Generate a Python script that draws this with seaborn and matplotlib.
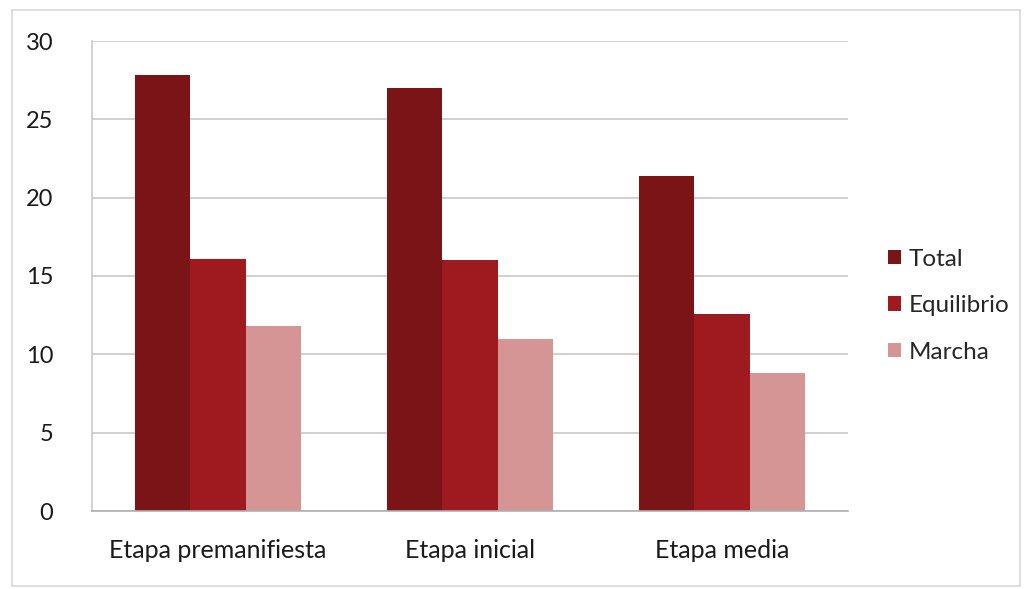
import matplotlib
matplotlib.use("Agg")
import matplotlib.pyplot as plt
import seaborn as sns
import pandas as pd
from matplotlib.patches import Rectangle

categories = ["Etapa premanifiesta", "Etapa inicial", "Etapa media"]
series_names = ["Total", "Equilibrio", "Marcha"]
total = [27.8, 27.0, 21.4]
equilibrio = [16.1, 16.0, 12.6]
marcha = [11.8, 11.0, 8.8]
yticks = [0, 5, 10, 15, 20, 25, 30]
colors = ["#7a1416", "#9e1a1e", "#d49594"]

rows = []
for name, vals in zip(series_names, [total, equilibrio, marcha]):
    for c, v in zip(categories, vals):
        rows.append({"Etapa": c, "Serie": name, "Valor": v})
df = pd.DataFrame(rows)

sns.set_style("white")
plt.rcParams["font.family"] = ["Lato", "DejaVu Sans"]

fig = plt.figure(figsize=(10.32, 5.89), dpi=100)
ax = fig.add_axes([92 / 1032, 1 - 511 / 589, (848 - 92) / 1032, (511 - 41) / 589])

sns.barplot(data=df, x="Etapa", y="Valor", hue="Serie", order=categories,
            hue_order=series_names, palette=colors, width=0.66, gap=0,
            saturation=1, ax=ax, linewidth=0, errorbar=None)

ax.set_xlim(-0.5, 2.5)
ax.set_ylim(0, 30)
ax.set_yticks(yticks)
ax.set_yticklabels([str(t) for t in yticks])
ax.yaxis.grid(True, color="#c8c8c8", linewidth=1.2)
ax.set_axisbelow(True)
ax.set_xlabel("")
ax.set_ylabel("")
for s in ["top", "right"]:
    ax.spines[s].set_visible(False)
ax.spines["left"].set_color("#c8c8c8")
ax.spines["bottom"].set_color("#b0b0b0")
ax.spines["left"].set_linewidth(1.2)
ax.spines["bottom"].set_linewidth(1.2)
ax.tick_params(axis="y", length=0, pad=28, labelsize=17, labelcolor="#1a1a1a")
ax.tick_params(axis="x", length=0, pad=20, labelsize=18, labelcolor="#1a1a1a")

handles, labels = ax.get_legend_handles_labels()
ax.legend(handles, labels, loc="center left", bbox_to_anchor=(1.04, 0.437),
          frameon=False, fontsize=17.5, handlelength=0.55, handleheight=0.55,
          handletextpad=0.3, labelspacing=1.05, borderaxespad=0)

fig.patches.append(Rectangle((12 / 1032, 0.005), 1 - 24 / 1032, 1 - 10 / 589 - 0.005,
                             transform=fig.transFigure, fill=False,
                             edgecolor="#d8d8d8", linewidth=1.2))

fig.savefig("out.png", dpi=100)
